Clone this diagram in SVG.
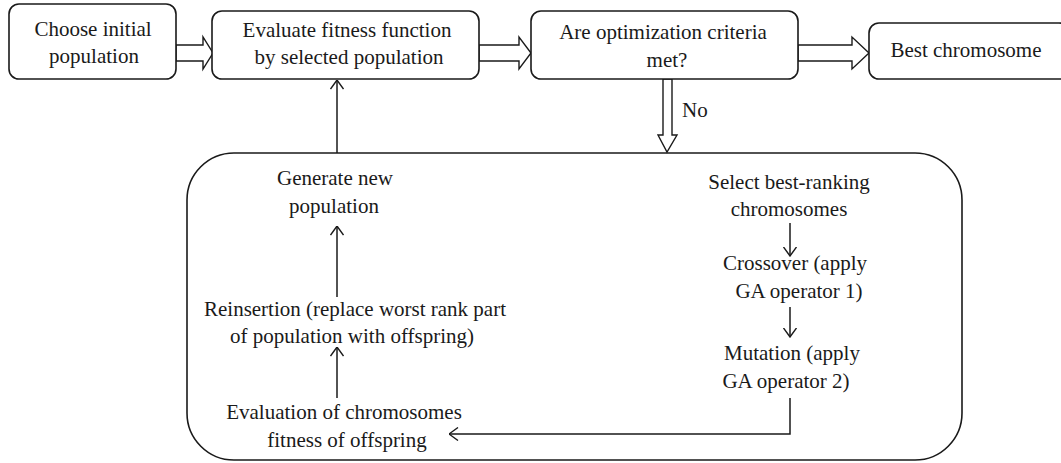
<svg xmlns="http://www.w3.org/2000/svg" width="1061" height="463" viewBox="0 0 1061 463">
<defs>
<style>
.box{fill:#fff;stroke:#1a1a1a;stroke-width:1.6}
.t{font-family:"Liberation Serif","Times New Roman",serif;font-size:21px;fill:#1a1a1a;text-anchor:middle}
.hollow{fill:#fff;stroke:#1a1a1a;stroke-width:1.4;stroke-linejoin:miter}
.ln{fill:none;stroke:#1a1a1a;stroke-width:1.5}
</style>
<marker id="open" viewBox="0 0 10 14" refX="9.5" refY="7" markerWidth="10" markerHeight="14" markerUnits="userSpaceOnUse" orient="auto">
<path d="M0.5,0.5 L9.5,7 L0.5,13.5" fill="none" stroke="#1a1a1a" stroke-width="1.4"/>
</marker>
</defs>
<rect width="1061" height="463" fill="#fff"/>

<g id="container">
<rect class="box" x="187" y="153" width="775" height="307" rx="47" ry="47"/>
</g>

<g id="connectors">
<polygon class="hollow" points="176,45 203,45 203,37 213,53 203,69 203,61 176,61"/>
<polygon class="hollow" points="479,45 519,45 519,37 531,53 519,69 519,61 479,61"/>
<polygon class="hollow" points="798,45 852,45 852,37 869,53 852,69 852,61 798,61"/>
<polygon class="hollow" points="663,79 672,79 672,135 677,135 667,152 658,135 663,135"/>
<line class="ln" x1="337" y1="153" x2="337" y2="80" marker-end="url(#open)"/>
<line class="ln" x1="337" y1="297" x2="337" y2="226" marker-end="url(#open)"/>
<line class="ln" x1="337" y1="398" x2="337" y2="347" marker-end="url(#open)"/>
<line class="ln" x1="790" y1="223" x2="790" y2="256" marker-end="url(#open)"/>
<line class="ln" x1="790" y1="307" x2="790" y2="337" marker-end="url(#open)"/>
<polyline class="ln" points="790,398 790,434 449,434" marker-end="url(#open)"/>
<text class="t" x="682" y="117" style="text-anchor:start">No</text>
</g>

<g id="choose">
<rect class="box" x="9" y="4" width="167" height="75" rx="10"/>
<text class="t" x="93" y="36">Choose initial</text>
<text class="t" x="94" y="63">population</text>
</g>

<g id="evaluate">
<rect class="box" x="212" y="11" width="267" height="68" rx="10"/>
<text class="t" x="347" y="37">Evaluate fitness function</text>
<text class="t" x="349" y="64">by selected population</text>
</g>

<g id="criteria">
<rect class="box" x="531" y="11" width="267" height="68" rx="10"/>
<text class="t" x="663" y="39">Are optimization criteria</text>
<text class="t" x="667" y="67">met?</text>
</g>

<g id="best">
<rect class="box" x="869" y="23" width="200" height="56" rx="10"/>
<text class="t" x="966" y="57">Best chromosome</text>
</g>

<g id="generate">
<text class="t" x="335" y="185">Generate new</text>
<text class="t" x="334" y="213">population</text>
</g>

<g id="reinsertion">
<text class="t" x="355" y="316">Reinsertion (replace worst rank part</text>
<text class="t" x="352" y="343">of population with offspring)</text>
</g>

<g id="evaluation">
<text class="t" x="344" y="419">Evaluation of chromosomes</text>
<text class="t" x="347" y="447">fitness of offspring</text>
</g>

<g id="select">
<text class="t" x="789" y="189">Select best-ranking</text>
<text class="t" x="789" y="216">chromosomes</text>
</g>

<g id="crossover">
<text class="t" x="795" y="270">Crossover (apply</text>
<text class="t" x="799" y="298">GA operator 1)</text>
</g>

<g id="mutation">
<text class="t" x="792" y="360">Mutation (apply</text>
<text class="t" x="786" y="388">GA operator 2)</text>
</g>
</svg>
